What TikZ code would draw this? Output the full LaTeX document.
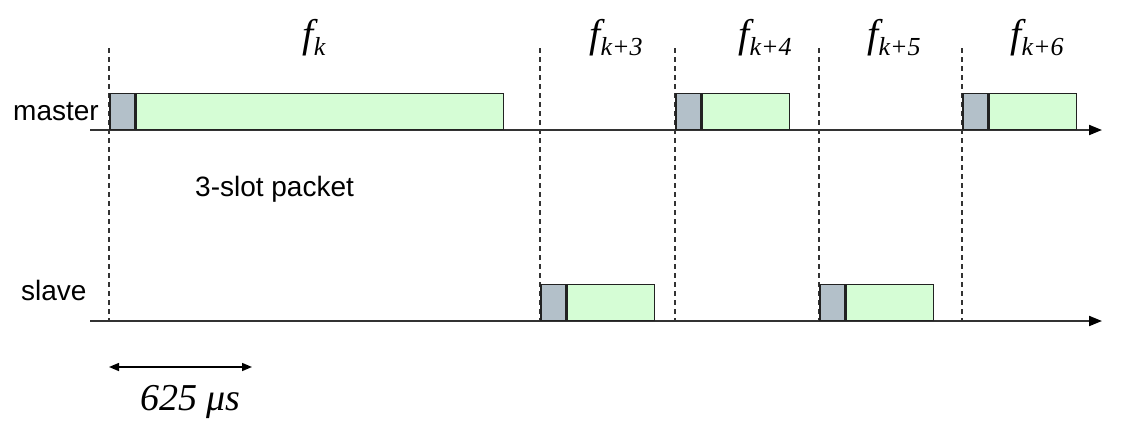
\documentclass[tikz,border=0pt]{standalone}
\usepackage{fontspec}
\setmainfont{Liberation Serif}
\newfontfamily\arialf{Liberation Sans}
\usetikzlibrary{arrows.meta}
\definecolor{hdrgray}{HTML}{B3C0C9}
\definecolor{paygreen}{HTML}{D5FDD5}
\definecolor{edgec}{HTML}{222222}
\definecolor{axisc}{HTML}{333333}
\newcommand\fsub[1]{{\fontsize{40}{40}\selectfont\itshape f}\raisebox{-8pt}{\fontsize{26}{26}\selectfont\itshape #1}}
\tikzset{
  hdr/.style={draw=edgec, line width=1.5pt, fill=hdrgray, inner sep=0pt, minimum height=36pt, minimum width=25pt, anchor=south west},
  pay/.style={draw=edgec, line width=1.5pt, fill=paygreen, inner sep=0pt, minimum height=36pt, anchor=south west},
  axisline/.style={draw=axisc, line width=2pt, -{Triangle[length=13pt,width=10pt,color=black]}},
  slotline/.style={draw=axisc, line width=1.4pt, dash pattern=on 5pt off 4pt},
  lab/.style={font=\arialf\fontsize{28}{28}\selectfont, inner sep=0pt},
  flab/.style={inner sep=0pt, anchor=base},
}
\begin{document}
\begin{tikzpicture}[x=1pt,y=-1pt]
\useasboundingbox (0,0) rectangle (1124,440);
% slot boundaries
\foreach \n/\x in {a/109,b/540,c/675,d/819,e/962}{
  \coordinate (t\n) at (\x,48);
  \coordinate (b\n) at (\x,322);
  \draw[slotline] (t\n) -- (b\n);
}
% axes
\coordinate (ms) at (90,130);
\coordinate (me) at (1102,130);
\coordinate (ss) at (90,321);
\coordinate (se) at (1102,321);
\draw[axisline] (ms) -- (me);
\draw[axisline] (ss) -- (se);
% master packets
\node[hdr] (mh1) at (109,130) {};
\node[pay, minimum width=367pt] (mp1) at (mh1.south east) {};
\node[hdr] (mh2) at (675,130) {};
\node[pay, minimum width=87pt] (mp2) at (mh2.south east) {};
\node[hdr] (mh3) at (962,130) {};
\node[pay, minimum width=87pt] (mp3) at (mh3.south east) {};
% slave packets
\node[hdr] (sh1) at (540,321) {};
\node[pay, minimum width=87pt] (sp1) at (sh1.south east) {};
\node[hdr] (sh2) at (819,321) {};
\node[pay, minimum width=87pt] (sp2) at (sh2.south east) {};
% labels
\node[lab, anchor=base west] (lmaster) at (13,120) {master};
\node[lab, anchor=base west] (lslave) at (21,300) {slave};
\node[lab, anchor=base west] (l3slot) at (195,196) {3-slot packet};
% frequency labels
\node[flab] (f0) at (314,47) {\fsub{k}};
\node[flab] (f3) at (616,47) {\fsub{k+3}};
\node[flab] (f4) at (765,47) {\fsub{k+4}};
\node[flab] (f5) at (894,47) {\fsub{k+5}};
\node[flab] (f6) at (1037,47) {\fsub{k+6}};
% slot duration
\coordinate (da) at (109,367);
\coordinate (db) at (252,367);
\draw[line width=1.5pt, {Triangle[length=10pt,width=8pt]}-{Triangle[length=10pt,width=8pt]}] (da) -- (db);
\node[inner sep=0pt, anchor=base west, font=\fontsize{38}{38}\selectfont\itshape] (dur) at (140,410) {625 μs};
\end{tikzpicture}
\end{document}
